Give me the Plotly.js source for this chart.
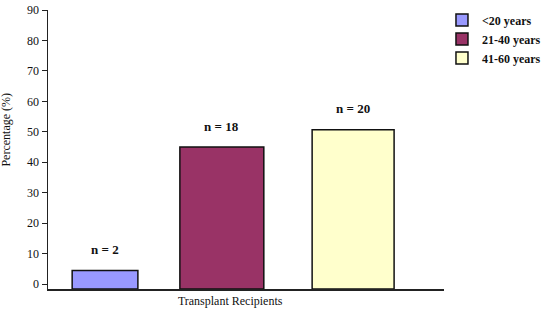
<!DOCTYPE html>
<html>
<head>
<meta charset="utf-8">
<script src="https://cdn.plot.ly/plotly-3.0.1.min.js"></script>
<style>html,body{margin:0;padding:0;background:#fff}#chart{width:547px;height:310px}</style>
</head>
<body>
<div id="chart"></div>
<script>
// ---- data ----
const category = ["Transplant Recipients"];
const seriesNames = ["<20 years", "21-40 years", "41-60 years"];
const percentages = [4.5, 45.0, 50.7];
const counts = ["n = 2", "n = 18", "n = 20"];

// ---- style ----
const colors = ["#9999ff", "#993366", "#ffffcc"];
const barOffsets = [-0.399, -0.127, 0.207];
const barWidths = [0.166, 0.212, 0.207];
const yMin = -1.6;
const serif = "'Liberation Serif', 'Times New Roman', serif";

const traces = seriesNames.map((name, i) => ({
  type: "bar",
  name: name,
  x: category,
  y: [percentages[i] - yMin],
  base: yMin,
  offset: barOffsets[i],
  width: barWidths[i],
  marker: {color: colors[i], line: {color: "#111", width: 1.5}},
  hoverinfo: "name"
}));

const annotations = seriesNames.map((name, i) => ({
  x: barOffsets[i] + barWidths[i] / 2,
  xref: "x",
  y: percentages[i],
  yref: "y",
  text: "<b>" + counts[i] + "</b>",
  showarrow: false,
  yshift: 21,
  font: {family: serif, size: 13, color: "#111"}
}));
annotations.push({
  text: "Percentage (%)",
  textangle: -90,
  xref: "paper", yref: "paper",
  x: -0.105, y: 0.573, xanchor: "center", yanchor: "middle",
  showarrow: false,
  font: {family: serif, size: 12, color: "#111"}
});

const layout = {
  width: 547, height: 310,
  margin: {l: 48, r: 103, t: 10, b: 21, autoexpand: false},
  paper_bgcolor: "#fff", plot_bgcolor: "#fff",
  barmode: "overlay",
  showlegend: true,
  legend: {
    xref: "container", yref: "container",
    x: 0.808, y: 0.982, xanchor: "left", yanchor: "top",
    font: {family: serif, size: 12, color: "#111", weight: "bold"},
    traceorder: "normal",
    itemwidth: 30,
    tracegroupgap: 0
  },
  xaxis: {
    type: "category",
    range: [-0.46, 0.54],
    showline: true, linecolor: "#222", linewidth: 1.5,
    ticks: "", showgrid: false, zeroline: false,
    tickfont: {family: serif, size: 12, color: "#111"},
    automargin: false
  },
  yaxis: {
    range: [yMin, 90],
    tickvals: [0, 10, 20, 30, 40, 50, 60, 70, 80, 90],
    showline: true, linecolor: "#222", linewidth: 1.5,
    ticks: "outside", ticklen: 5, tickcolor: "#222", tickwidth: 1,
    showgrid: false, zeroline: false,
    tickfont: {family: serif, size: 12, color: "#111"},
    automargin: false
  },
  annotations: annotations
};

Plotly.newPlot("chart", traces, layout, {displayModeBar: false, staticPlot: true});
</script>
</body>
</html>
